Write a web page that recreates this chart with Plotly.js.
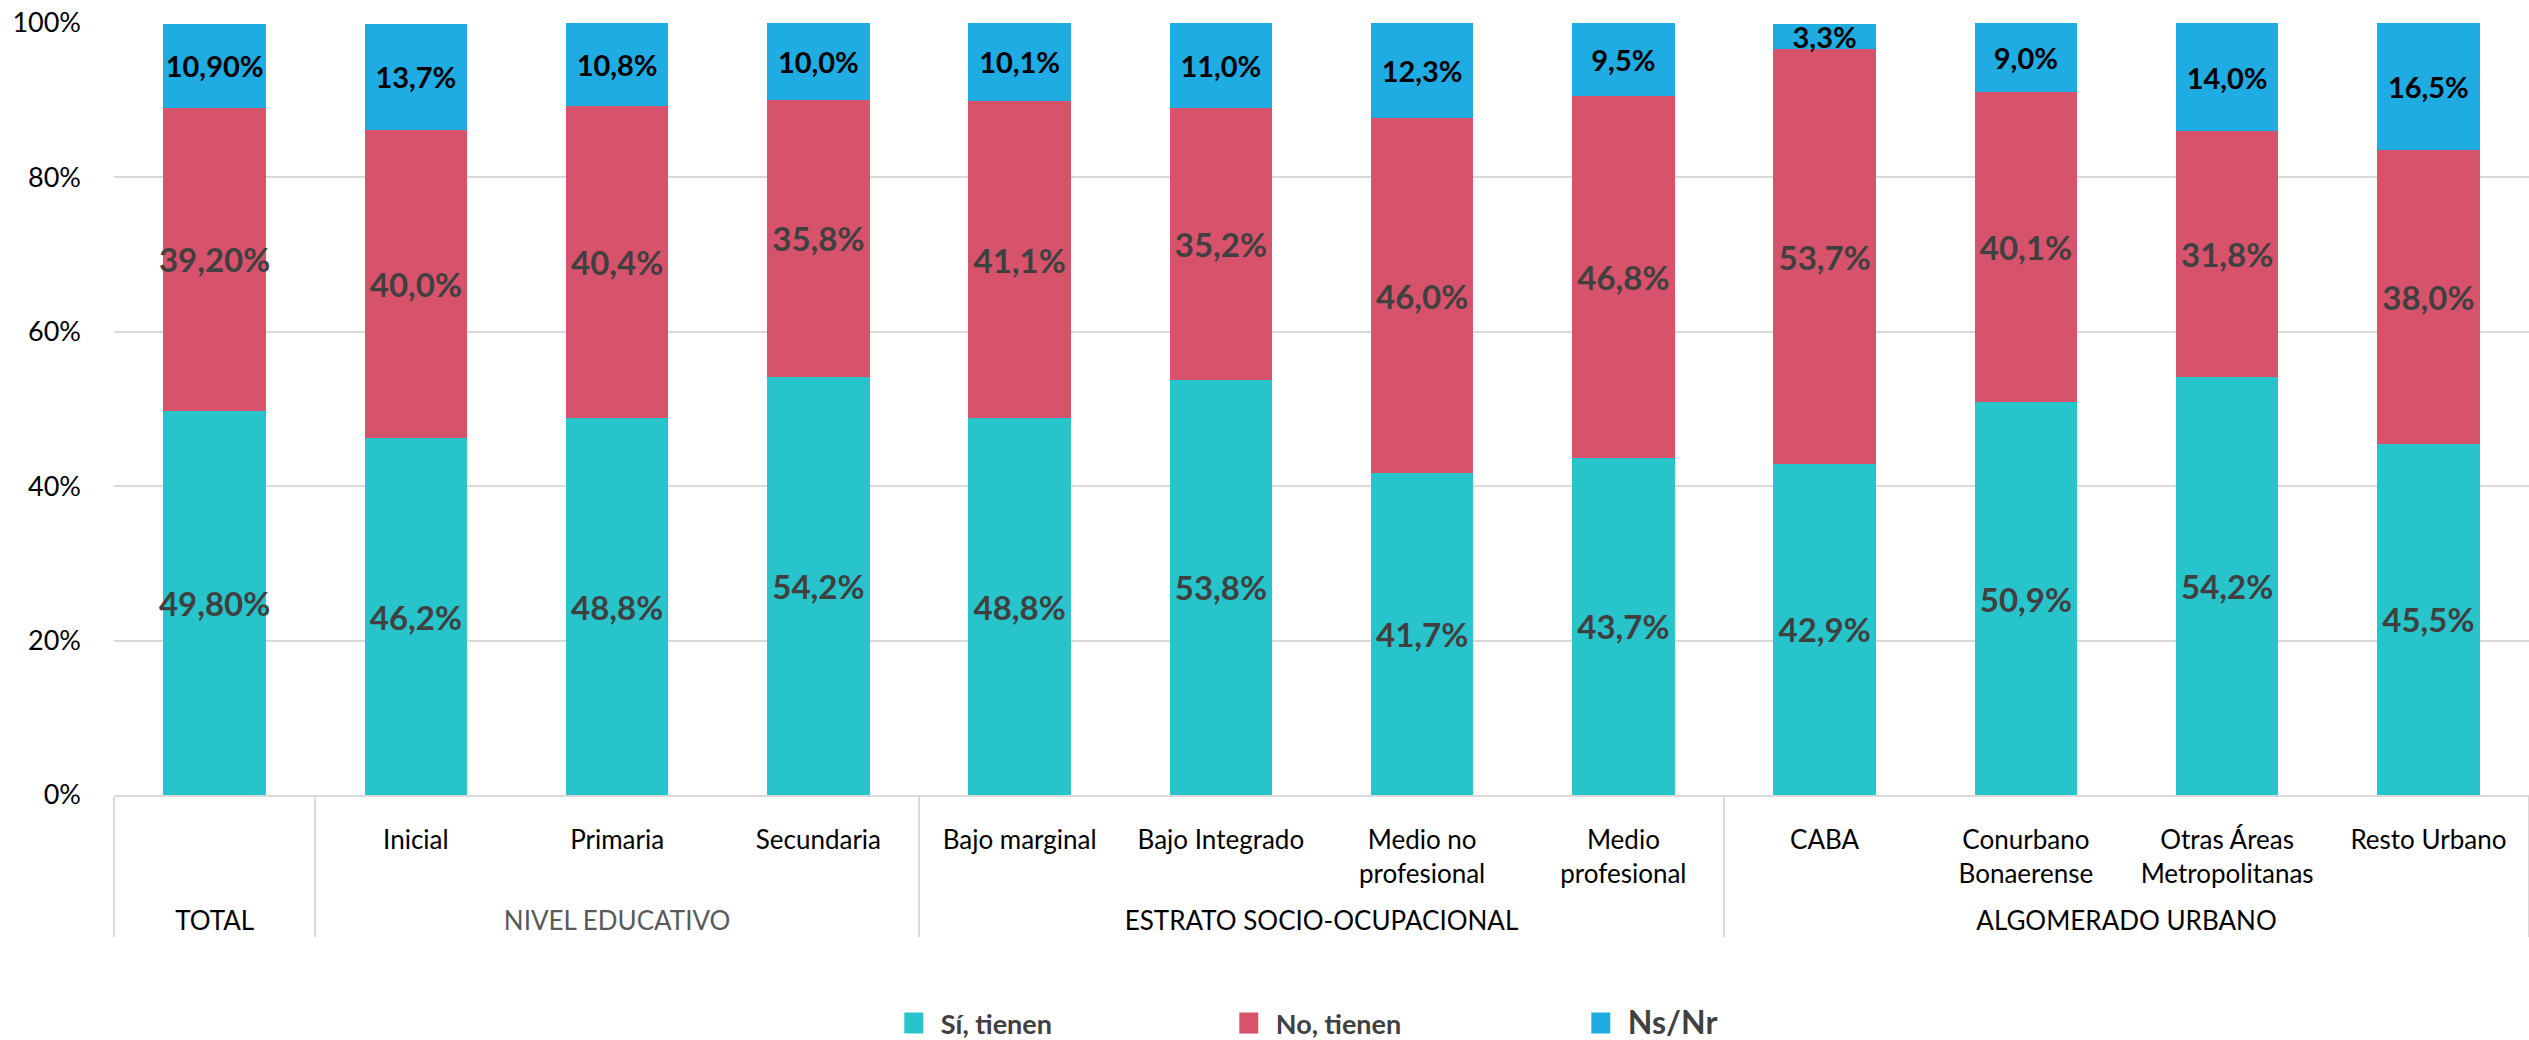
<!DOCTYPE html>
<html>
<head>
<meta charset="utf-8">
<script src="https://cdn.plot.ly/plotly-3.0.1.min.js"></script>
<style>
  html, body { margin: 0; padding: 0; background: #fff; }
  #chart { width: 2529px; height: 1040px; }
</style>
</head>
<body>
<div id="chart"></div>
<script>
// ---- Data ----
const groupNames = ['TOTAL', 'NIVEL EDUCATIVO', 'ESTRATO SOCIO-OCUPACIONAL', 'ALGOMERADO URBANO'];
const groupOfCategory = [0, 1, 1, 1, 2, 2, 2, 2, 3, 3, 3, 3];
const categories = [' ', 'Inicial', 'Primaria', 'Secundaria',
  'Bajo marginal', 'Bajo Integrado', 'Medio no<br>profesional', 'Medio<br>profesional',
  'CABA', 'Conurbano<br>Bonaerense', 'Otras Áreas<br>Metropolitanas', 'Resto Urbano'];
const siTienen = [49.8, 46.2, 48.8, 54.2, 48.8, 53.8, 41.7, 43.7, 42.9, 50.9, 54.2, 45.5];
const noTienen = [39.2, 40.0, 40.4, 35.8, 41.1, 35.2, 46.0, 46.8, 53.7, 40.1, 31.8, 38.0];
const nsNr     = [10.9, 13.7, 10.8, 10.0, 10.1, 11.0, 12.3, 9.5, 3.3, 9.0, 14.0, 16.5];
const decimals = [2, 1, 1, 1, 1, 1, 1, 1, 1, 1, 1, 1];
const seriesNames = ['Sí, tienen', 'No, tienen', 'Ns/Nr'];
const yTickVals = [0, 20, 40, 60, 80, 100];

// ---- Chart ----
const FONT = 'Lato, "Liberation Sans", sans-serif';
const fmt = vals => vals.map((v, i) => v.toFixed(decimals[i]).replace('.', ',') + '%');
const groupLabel = g => '&nbsp;<br>' + (g === 1
  ? '<span style="color:#595959">' + groupNames[g] + '</span>'
  : groupNames[g]);
const x = [groupOfCategory.map(groupLabel), categories];

function barTrace(vals, name, color, txtColor, txtSize, legendwidth) {
  return {
    type: 'bar', x: x, y: vals, name: name,
    marker: { color: color },
    text: fmt(vals),
    textposition: 'inside', insidetextanchor: 'middle', constraintext: 'none',
    textangle: 0,
    textfont: { family: FONT, size: txtSize, color: txtColor, weight: 700 },
    cliponaxis: false,
    hoverinfo: 'skip',
    legendwidth: legendwidth
  };
}

const data = [
  barTrace(siTienen, seriesNames[0], '#27C4CC', '#404040', 33, 276),
  barTrace(noTienen, seriesNames[1], '#D7536B', '#404040', 33, 293),
  barTrace(nsNr, '<span style="font-size:32px">' + seriesNames[2] + '</span>', '#1FACE3', '#000000', 29, 100)
];

const layout = {
  width: 2529, height: 1040,
  margin: { l: 114, r: 0, t: 23, b: 245, autoexpand: false },
  paper_bgcolor: '#ffffff', plot_bgcolor: '#ffffff',
  barmode: 'stack', bargap: 0.49,
  font: { family: FONT, color: '#000' },
  showlegend: true,
  legend: {
    orientation: 'h', x: 0.32, xanchor: 'left', y: -0.296, yanchor: 'middle',
    font: { family: FONT, size: 27, color: '#404040', weight: 700 },
    itemwidth: 44, traceorder: 'normal', itemclick: false
  },
  xaxis: {
    type: 'multicategory', automargin: false,
    showgrid: false,
    showline: true, linecolor: '#D9D9D9', linewidth: 2,
    showdividers: true, dividercolor: '#D9D9D9', dividerwidth: 2,
    tickfont: { family: FONT, size: 26, color: '#000' },
    ticks: '', ticklabelstandoff: 21,
    fixedrange: true
  },
  yaxis: {
    range: [0, 100], automargin: false,
    tickvals: yTickVals, ticktext: yTickVals.map(v => v + '%'),
    showgrid: true, gridcolor: '#D9D9D9', gridwidth: 2,
    zeroline: false, showline: false,
    tickfont: { family: FONT, size: 27, color: '#000' },
    ticks: '', ticklabelstandoff: 32,
    fixedrange: true
  }
};

Plotly.newPlot('chart', data, layout, { displayModeBar: false, staticPlot: true }).then(gd => {
  // legend swatches: slightly larger squares, as in the reference
  gd.querySelectorAll('g.legendpoints path').forEach(p => p.setAttribute('d', 'M9.5,10.5H-9.5V-10.5H9.5Z'));
});
</script>
</body>
</html>
